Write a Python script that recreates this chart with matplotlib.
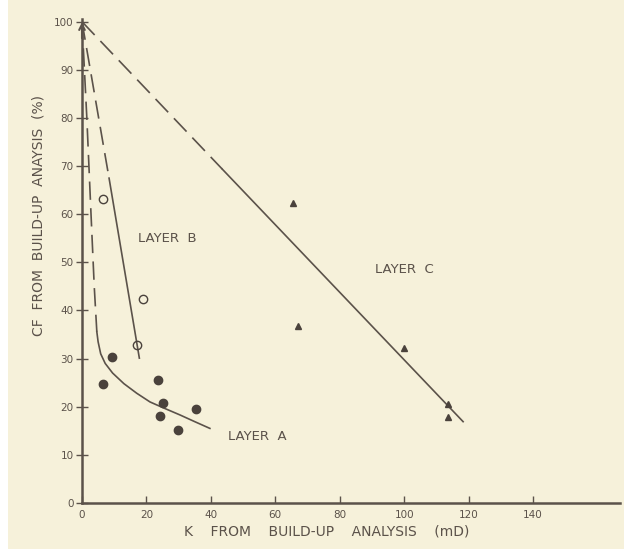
import matplotlib.pyplot as plt
from matplotlib.patches import Rectangle

# scanned paper colours
paper = "#f6f1da"
ink = "#5b524a"
dot = "#4a423c"

# Layer A - filled circles
a_k = [6.6, 9.4, 23.7, 25.1, 24.1, 35.3, 29.7]
a_cf = [24.8, 30.3, 25.6, 20.8, 18.0, 19.6, 15.2]
# Layer B - open circles
b_k = [6.4, 18.8, 17.0]
b_cf = [63.1, 42.3, 32.9]
# Layer C - triangles
c_k = [65.6, 66.9, 99.9, 113.7, 113.7]
c_cf = [62.4, 36.8, 32.2, 20.6, 17.8]

# hand-drawn trend lines
a_dash_k = [0.0, 1.5, 2.8, 3.8, 4.6]
a_dash_cf = [100.0, 80.0, 60.0, 45.0, 35.6]
a_curve_k = [4.6, 5.0, 5.8, 7.2, 9.5, 13.0, 17.0, 21.1, 25.5, 30.4, 35.0, 39.7]
a_curve_cf = [35.6, 33.5, 31.0, 29.0, 27.0, 24.8, 22.8, 21.0, 19.7, 18.3, 16.9, 15.5]
b_dash_k = [0.0, 8.4]
b_dash_cf = [100.0, 67.5]
b_line_k = [8.4, 17.8]
b_line_cf = [67.5, 30.1]
c_dash_k = [0.0, 43.5]
c_dash_cf = [100.0, 69.4]
c_line_k = [43.5, 118.3]
c_line_cf = [69.4, 16.9]

xticks = [0, 20, 40, 60, 80, 100, 120, 140]
yticks = [0, 10, 20, 30, 40, 50, 60, 70, 80, 90, 100]

fig = plt.figure(figsize=(6.24, 5.52), dpi=100, facecolor="white")
fig.patches.append(Rectangle((8 / 624, 3 / 552), 1, 1, transform=fig.transFigure,
                             facecolor=paper, edgecolor="none", zorder=-10))
ax = fig.add_axes([82 / 624, 49 / 552, 538 / 624, 483.7 / 552])
ax.set_zorder(5)
ax.set_facecolor("none")

dash = (0, (11, 5))
ax.plot(a_dash_k, a_dash_cf, color=ink, lw=1.2, linestyle=dash)
ax.plot(a_curve_k, a_curve_cf, color=ink, lw=1.2)
ax.plot(b_dash_k, b_dash_cf, color=ink, lw=1.2, linestyle=dash)
ax.plot(b_line_k, b_line_cf, color=ink, lw=1.2)
ax.plot(c_dash_k, c_dash_cf, color=ink, lw=1.2, linestyle=dash)
ax.plot(c_line_k, c_line_cf, color=ink, lw=1.2)

ax.plot(a_k, a_cf, "o", color=dot, markersize=6, linestyle="none")
ax.plot(b_k, b_cf, "o", markerfacecolor="none", markeredgecolor=dot,
        markeredgewidth=1.0, markersize=6, linestyle="none")
ax.plot(c_k, c_cf, "^", color=dot, markersize=4.5, linestyle="none")

tfont = dict(color=ink, fontsize=9.5, family="DejaVu Sans")
ax.text(26.5, 55, "LAYER  B", **tfont, ha="center", va="center")
ax.text(100, 48.5, "LAYER  C", **tfont, ha="center", va="center")
ax.text(54.5, 13.9, "LAYER  A", **tfont, ha="center", va="center")

ax.set_xlim(0, 167)
ax.set_ylim(0, 100.5)
ax.set_xticks(xticks)
ax.set_yticks(yticks)
ax.spines["top"].set_visible(False)
ax.spines["right"].set_visible(False)
for s in ["left", "bottom"]:
    ax.spines[s].set_color(ink)
    ax.spines[s].set_linewidth(1.8)
ax.tick_params(axis="x", direction="in", length=5, width=1, colors=ink,
               labelsize=7.5, pad=5)
ax.tick_params(axis="y", direction="inout", length=8, width=1, colors=ink,
               labelsize=7.5, pad=2)
# arrow head at top of the CF axis
ax.annotate("", xy=(0, 100.5), xytext=(0, 96), annotation_clip=False,
            arrowprops=dict(arrowstyle="->", color=ink, lw=1.5))

ax.set_xlabel("K    FROM    BUILD-UP    ANALYSIS    (mD)", color=ink, fontsize=10)
ax.set_ylabel("CF  FROM  BUILD-UP  ANAYSIS  (%)", color=ink, fontsize=10)
ax.xaxis.set_label_coords(0.454, -0.044)
ax.yaxis.set_label_coords(-0.067, 0.595)

fig.savefig("out.png", dpi=100, facecolor=fig.get_facecolor())
